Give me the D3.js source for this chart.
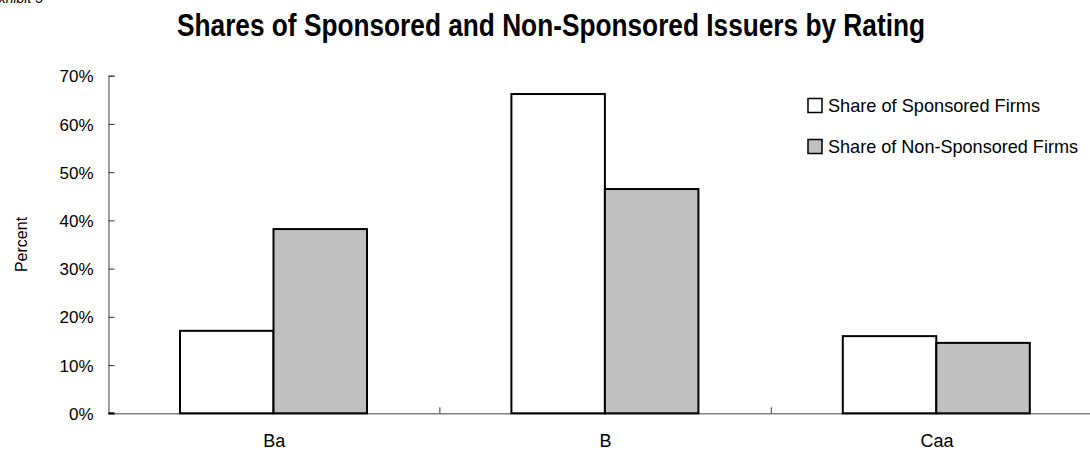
<!DOCTYPE html>
<html><head><meta charset="utf-8">
<script src="https://cdn.jsdelivr.net/npm/d3@7"></script>
<style>
body{margin:0;background:#fff;}
text{font-family:"Liberation Sans",Arial,sans-serif;}
</style></head>
<body><svg id="c" width="1090" height="451"></svg>
<script>
const categories = ["Ba", "B", "Caa"];
const seriesNames = ["Share of Sponsored Firms", "Share of Non-Sponsored Firms"];
const sponsored = [17.1, 66.2, 16.0];
const nonSponsored = [38.2, 46.5, 14.6];
const yTicks = [0, 10, 20, 30, 40, 50, 60, 70];
const colors = ["#ffffff", "#c0c0c0"];

(function () {
const svg = d3.select("#c");
const mLeft = 108.5, mTop = 75.7, mBottom = 413.3, bandW = 331.4;
const x = d3.scaleBand().domain(categories).range([mLeft, mLeft + bandW * 3]).padding(0);
const x1 = d3.scaleBand().domain([0, 1]).range([71.5, 71.5 + 187]).padding(0);
const y = d3.scaleLinear().domain([0, 70]).range([mBottom, mTop]);

// title
svg.append("text").attr("x", 177).attr("y", 35.7)
  .attr("font-size", 32).attr("font-weight", "bold")
  .attr("textLength", 748).attr("lengthAdjust", "spacingAndGlyphs")
  .text("Shares of Sponsored and Non-Sponsored Issuers by Rating");
svg.append("text").attr("x", 43).attr("y", 3).attr("text-anchor", "end")
  .attr("font-size", 14).attr("font-style", "italic").text("Exhibit 5");

// y axis
const ya = svg.append("g").attr("transform", `translate(${mLeft},0)`)
  .call(d3.axisRight(y).tickValues(yTicks).tickFormat(d => d + "%").tickSize(6).tickPadding(0));
ya.select(".domain").attr("stroke", "#808080").attr("stroke-width", 1.5);
ya.selectAll(".tick line").attr("stroke", "#333");
ya.selectAll(".tick text").attr("x", -15).attr("text-anchor", "end").attr("font-size", 17)
  .attr("font-family", "'Liberation Sans',Arial,sans-serif").attr("fill", "#000").attr("dy", "0.36em");

svg.append("text").attr("transform", `translate(27,${(mTop + mBottom) / 2}) rotate(-90)`)
  .attr("text-anchor", "middle").attr("font-size", 16).text("Percent");

// x axis
const xa = svg.append("g").attr("transform", `translate(0,${mBottom})`)
  .call(d3.axisBottom(x).tickSize(0).tickPadding(21));
xa.select(".domain").attr("stroke", "#808080").attr("stroke-width", 1.5);
xa.selectAll(".tick text").attr("font-size", 18).attr("font-family", "'Liberation Sans',Arial,sans-serif").attr("fill", "#000");
svg.append("g").selectAll("line").data([1, 2]).join("line")
  .attr("x1", d => mLeft + bandW * d).attr("x2", d => mLeft + bandW * d)
  .attr("y1", mBottom).attr("y2", mBottom - 6).attr("stroke", "#333");
svg.append("line").attr("x1", mLeft).attr("x2", mLeft + 6).attr("y1", mBottom).attr("y2", mBottom).attr("stroke", "#000").attr("stroke-width", 2);

// bars
const g = svg.append("g");
categories.forEach((c, i) => {
  [sponsored[i], nonSponsored[i]].forEach((v, j) => {
    g.append("rect").attr("x", x(c) + x1(j)).attr("width", x1.bandwidth())
      .attr("y", y(v)).attr("height", y(0) - y(v))
      .attr("fill", colors[j]).attr("stroke", "#000").attr("stroke-width", 2);
  });
});

// legend
const lg = svg.append("g");
const lens = [212, 250];
seriesNames.forEach((n, i) => {
  const yy = 98.5 + i * 41;
  lg.append("rect").attr("x", 808).attr("y", yy).attr("width", 14).attr("height", 14)
    .attr("fill", colors[i]).attr("stroke", "#000").attr("stroke-width", 1.5);
  lg.append("text").attr("x", 828).attr("y", yy + 13.5).attr("font-size", 19)
    .attr("textLength", lens[i]).attr("lengthAdjust", "spacingAndGlyphs").text(n);
});
})();
</script></body></html>
